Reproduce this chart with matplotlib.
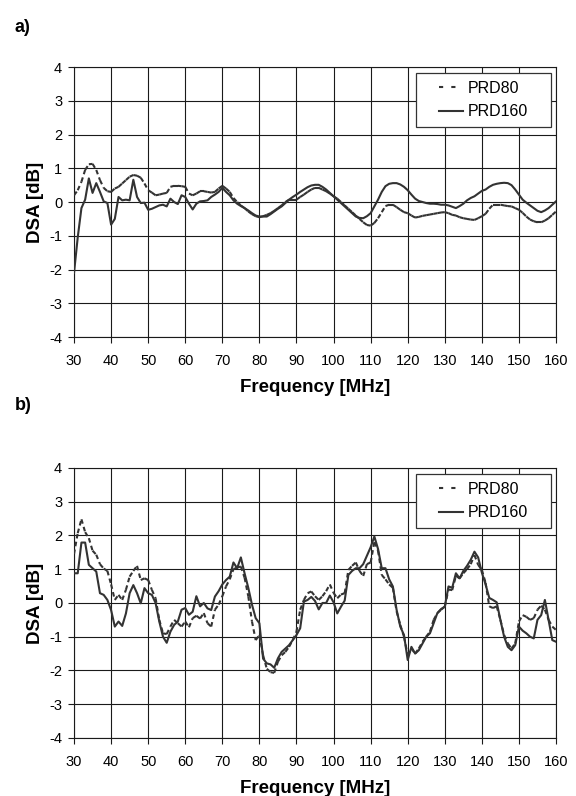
import numpy as np
import matplotlib
matplotlib.use("Agg")
import matplotlib.pyplot as plt
from matplotlib.collections import LineCollection
from matplotlib.lines import Line2D
from matplotlib.patches import Rectangle

plt.rcParams['font.family'] = ['Liberation Sans', 'DejaVu Sans']
plt.rcParams['axes.unicode_minus'] = False

freq = np.arange(30, 161, 1)

# (a) PRD80 / PRD160 DSA values [dB], 1 MHz steps from 30 to 160 MHz
a_prd80 = [
    0.20, 0.35, 0.60, 0.95, 1.12, 1.13, 0.95, 0.65, 0.42, 0.32,
    0.30, 0.40, 0.45, 0.55, 0.65, 0.75, 0.80, 0.78, 0.72, 0.55,
    0.35, 0.28, 0.20, 0.22, 0.25, 0.27, 0.45, 0.48, 0.48, 0.47,
    0.45, 0.25, 0.20, 0.25, 0.32, 0.32, 0.30, 0.28, 0.30, 0.40,
    0.48, 0.40, 0.30, 0.12, 0.00, -0.10, -0.18, -0.28, -0.36, -0.42,
    -0.45, -0.42, -0.38, -0.33, -0.26, -0.18, -0.10, 0.00, 0.07, 0.07,
    0.07, 0.15, 0.22, 0.30, 0.37, 0.42, 0.42, 0.37, 0.32, 0.25,
    0.17, 0.10, 0.00, -0.10, -0.20, -0.30, -0.40, -0.50, -0.60, -0.68,
    -0.70, -0.62, -0.48, -0.30, -0.12, -0.08, -0.08, -0.15, -0.23, -0.30,
    -0.33, -0.40, -0.46, -0.44, -0.41, -0.39, -0.37, -0.35, -0.33, -0.31,
    -0.30, -0.33, -0.38, -0.40, -0.45, -0.48, -0.50, -0.52, -0.53, -0.48,
    -0.42, -0.35, -0.20, -0.08, -0.08, -0.08, -0.10, -0.12, -0.13, -0.18,
    -0.23, -0.32, -0.43, -0.52, -0.57, -0.60, -0.60, -0.55, -0.48, -0.38,
    -0.28,
]
a_prd160 = [
    -2.10, -1.05, -0.18, 0.07, 0.70, 0.27, 0.56, 0.30, 0.02, -0.03,
    -0.67, -0.50, 0.15, 0.05, 0.07, 0.05, 0.66, 0.15, -0.03, -0.02,
    -0.23, -0.20, -0.15, -0.10, -0.08, -0.13, 0.10, 0.00, -0.06, 0.20,
    0.15, -0.05, -0.22, -0.05, 0.02, 0.03, 0.05, 0.15, 0.22, 0.30,
    0.42, 0.30, 0.20, 0.05, -0.05, -0.12, -0.18, -0.25, -0.33, -0.40,
    -0.43, -0.43, -0.43, -0.36, -0.28, -0.20, -0.13, -0.03, 0.07, 0.15,
    0.22, 0.30, 0.37, 0.44, 0.49, 0.51, 0.51, 0.45, 0.37, 0.27,
    0.17, 0.07, -0.03, -0.13, -0.23, -0.33, -0.43, -0.47, -0.48, -0.42,
    -0.33, -0.13, 0.07, 0.30, 0.47, 0.54, 0.56, 0.56, 0.52, 0.45,
    0.35, 0.22, 0.10, 0.03, 0.00, -0.03, -0.05, -0.05, -0.06, -0.08,
    -0.08, -0.10, -0.14, -0.18, -0.12, -0.05, 0.05, 0.12, 0.17, 0.25,
    0.33, 0.37, 0.45, 0.51, 0.54, 0.56, 0.57, 0.56, 0.50, 0.37,
    0.22, 0.07, -0.02, -0.10, -0.18, -0.26, -0.30, -0.25, -0.18, -0.08,
    0.02,
]

# (b) PRD80 / PRD160 DSA values [dB], 1 MHz steps from 30 to 160 MHz
b_prd80 = [
    1.45, 2.07, 2.48, 2.10, 1.92, 1.55, 1.43, 1.15, 1.02, 0.95,
    0.55, 0.09, 0.24, 0.09, 0.39, 0.78, 0.95, 1.10, 0.68, 0.73,
    0.68, 0.39, 0.14, -0.50, -0.90, -0.92, -0.70, -0.50, -0.60, -0.70,
    -0.55, -0.72, -0.45, -0.38, -0.46, -0.30, -0.60, -0.70, -0.20, -0.05,
    0.20, 0.49, 0.70, 1.00, 1.05, 1.08, 0.75, 0.20, -0.55, -1.10,
    -0.95, -1.55, -1.95, -2.05, -2.07, -1.74, -1.55, -1.45, -1.30, -1.10,
    -0.85, -0.20, 0.09, 0.29, 0.34, 0.20, 0.09, 0.20, 0.35, 0.55,
    0.30, 0.14, 0.25, 0.29, 0.98, 1.10, 1.20, 0.95, 0.80, 1.15,
    1.20, 1.80, 1.55, 0.83, 0.70, 0.55, 0.45, -0.25, -0.65, -1.00,
    -1.55, -1.35, -1.50, -1.35, -1.15, -1.00, -0.85, -0.50, -0.30, -0.20,
    -0.11, 0.40, 0.38, 0.80, 0.73, 0.88, 1.00, 1.15, 1.42, 1.13,
    0.98, 0.60, -0.10, -0.15, -0.10, -0.50, -0.95, -1.20, -1.35, -1.20,
    -0.55, -0.36, -0.41, -0.50, -0.45, -0.20, -0.08, -0.20, -0.50, -0.70,
    -0.80,
]
b_prd160 = [
    0.88, 0.88, 1.79, 1.79, 1.13, 1.03, 0.93, 0.29, 0.24, 0.09,
    -0.21, -0.70, -0.55, -0.68, -0.31, 0.29, 0.53, 0.29, -0.01, 0.44,
    0.29, 0.24, 0.00, -0.55, -1.00, -1.18, -0.85, -0.65, -0.55, -0.20,
    -0.15, -0.35, -0.26, 0.20, -0.10, 0.00, -0.16, -0.21, 0.19, 0.35,
    0.55, 0.68, 0.78, 1.20, 1.03, 1.35, 0.88, 0.45, -0.05, -0.45,
    -0.60, -1.65, -1.79, -1.82, -1.92, -1.64, -1.45, -1.35, -1.25, -1.10,
    -0.95, -0.75, 0.04, 0.09, 0.18, 0.06, -0.19, 0.00, 0.00, 0.22,
    0.02, -0.31, -0.11, 0.07, 0.83, 0.95, 1.03, 1.03, 1.15, 1.40,
    1.65, 1.97, 1.60, 1.03, 1.03, 0.70, 0.49, -0.20, -0.70, -0.95,
    -1.69, -1.30, -1.50, -1.40, -1.20, -1.00, -0.90, -0.60, -0.30, -0.18,
    -0.11, 0.49, 0.45, 0.88, 0.73, 0.95, 1.10, 1.28, 1.52, 1.35,
    0.90, 0.55, 0.15, 0.09, 0.02, -0.50, -1.00, -1.30, -1.40, -1.25,
    -0.70, -0.82, -0.90, -1.00, -1.05, -0.50, -0.36, 0.09, -0.50, -1.10,
    -1.15,
]

x_ticks = list(range(30, 161, 10))
y_ticks = list(range(-4, 5, 1))
series_names = ["PRD80", "PRD160"]
panel_tags = ["a)", "b)"]

LINE_COLOR = "#333333"
LW = 1.5
DASH = (0, (2.2, 1.6))


def dashed_series(ax, x, y):
    # each segment restarts the dash pattern, so short steps read as solid
    pts = np.column_stack([x, y])
    segs = np.stack([pts[:-1], pts[1:]], axis=1)
    lc = LineCollection(segs, colors=LINE_COLOR, linewidths=LW,
                        linestyles=[DASH], capstyle="butt", zorder=3)
    ax.add_collection(lc)


def legend_box(ax):
    # boxed legend with generous side margins
    box = Rectangle((0.7095, 0.7778), 0.2801, 0.2000, transform=ax.transAxes,
                    facecolor="white", edgecolor="#333333", lw=0.9, zorder=4)
    ax.add_patch(box)
    handles = [Line2D([], [], color=LINE_COLOR, lw=LW, linestyle=(0, (2.0, 3.9))),
               Line2D([], [], color=LINE_COLOR, lw=LW)]
    leg = ax.legend(handles, series_names, loc="center",
                    bbox_to_anchor=(0.8496, 0.8778), fontsize=11.5,
                    frameon=False, handlelength=1.5, handletextpad=0.25,
                    borderpad=0.0, labelspacing=0.55)
    leg.set_zorder(5)


fig = plt.figure(figsize=(5.76, 7.96), dpi=100)
ax_a = fig.add_axes([0.1285, 0.5766, 0.8368, 0.3392])
ax_b = fig.add_axes([0.1285, 0.0729, 0.8368, 0.3392])

for ax, s80, s160 in [(ax_a, a_prd80, a_prd160), (ax_b, b_prd80, b_prd160)]:
    dashed_series(ax, freq, s80)
    ax.plot(freq, s160, color=LINE_COLOR, lw=LW, zorder=3)

    ax.set_xlim(30, 160)
    ax.set_ylim(-4, 4)
    ax.set_xticks(x_ticks)
    ax.set_yticks(y_ticks)
    ax.grid(True, color="#1a1a1a", lw=0.8)
    ax.set_axisbelow(True)
    for sp in ax.spines.values():
        sp.set_color("#1a1a1a")
        sp.set_linewidth(0.8)
    ax.tick_params(axis="both", direction="out", length=4.5, width=0.8,
                   color="#1a1a1a", labelsize=10.5)
    ax.tick_params(axis="x", pad=7.5)
    ax.tick_params(axis="y", pad=4)
    ax.set_xlabel("Frequency [MHz]", fontsize=13.5, fontweight="bold",
                  labelpad=8.5)
    ax.set_ylabel("DSA [dB]", fontsize=13.5, fontweight="bold", labelpad=4)
    legend_box(ax)

fig.text(0.025, 0.966, panel_tags[0], fontsize=13, fontweight="bold",
         ha="left", va="center")
fig.text(0.025, 0.491, panel_tags[1], fontsize=13, fontweight="bold",
         ha="left", va="center")

fig.savefig("out.png", dpi=100)
